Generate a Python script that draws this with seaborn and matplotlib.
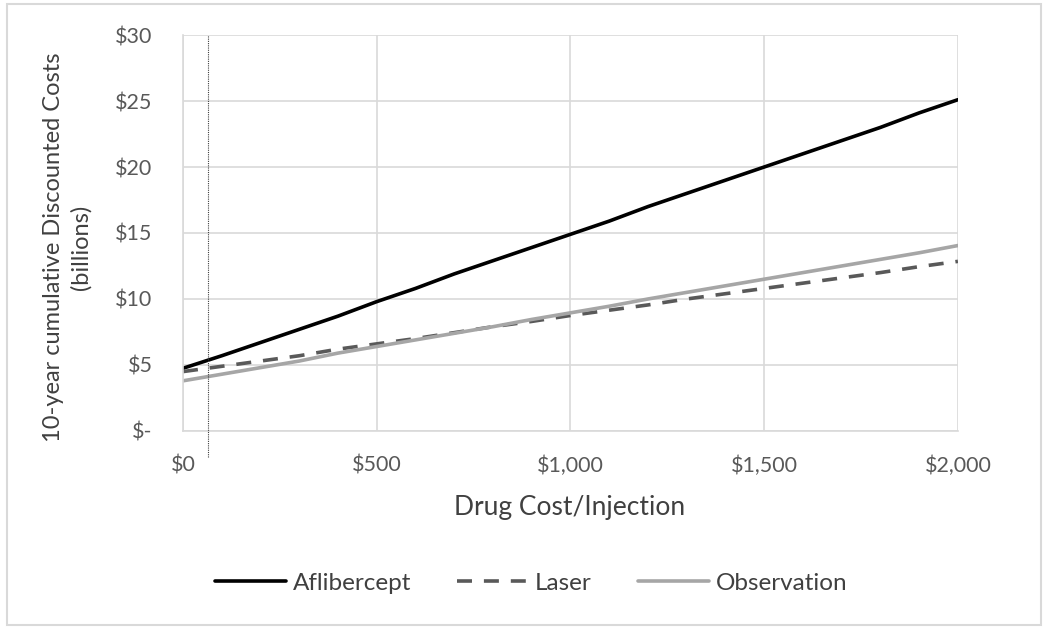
import numpy as np
import pandas as pd
import seaborn as sns
import matplotlib.pyplot as plt
from matplotlib.patches import Rectangle
from matplotlib.ticker import FuncFormatter

# drug cost per injection ($)
drug_cost = [0, 100, 200, 300, 400, 500, 600, 700, 800, 900, 1000,
             1100, 1200, 1300, 1400, 1500, 1600, 1700, 1800, 1900, 2000]

# 10-year cumulative discounted costs (billions)
aflibercept = [4.75, 5.7, 6.7, 7.7, 8.7, 9.8, 10.8, 11.9, 12.9, 13.9, 14.9,
               15.9, 17.0, 18.0, 19.0, 20.0, 21.0, 22.0, 23.0, 24.1, 25.1]
laser = [4.5, 4.9, 5.3, 5.7, 6.2, 6.6, 7.0, 7.45, 7.9, 8.3, 8.75,
         9.15, 9.55, 10.0, 10.4, 10.8, 11.2, 11.6, 12.0, 12.45, 12.85]
observation = [3.8, 4.3, 4.8, 5.3, 5.9, 6.4, 6.9, 7.4, 7.9, 8.45, 8.95,
               9.45, 10.0, 10.5, 11.0, 11.5, 12.0, 12.5, 13.0, 13.5, 14.05]

series_names = ["Aflibercept", "Laser", "Observation"]
threshold_cost = 64

x_ticks = [0, 500, 1000, 1500, 2000]
y_ticks = [0, 5, 10, 15, 20, 25, 30]

df = pd.DataFrame({
    "cost": drug_cost * 3,
    "value": aflibercept + laser + observation,
    "series": np.repeat(series_names, len(drug_cost)),
})

sns.set_theme(style="white")
plt.rcParams["font.family"] = ["Lato", "DejaVu Sans"]

fig = plt.figure(figsize=(10.5, 6.31), dpi=100)
ax = fig.add_axes([0.1743, 0.317, 0.738, 0.6275])

palette = {"Aflibercept": "#000000", "Laser": "#595959", "Observation": "#a6a6a6"}
dashes = {"Aflibercept": "", "Laser": (4.15, 3.3), "Observation": ""}
sns.lineplot(data=df, x="cost", y="value", hue="series", style="series",
             palette=palette, dashes=dashes, linewidth=2.6, ax=ax, legend=True)

ax.set_xlim(0, 2000)
ax.set_ylim(0, 30)
ax.set_xticks(x_ticks)
ax.set_yticks(y_ticks)
ax.xaxis.set_major_formatter(FuncFormatter(lambda v, p: f"${v:,.0f}"))
ax.yaxis.set_major_formatter(FuncFormatter(lambda v, p: "$-" if v == 0 else f"${v:.0f}"))
ax.grid(True, color="#d9d9d9", linewidth=1.2)
ax.set_axisbelow(True)
for side in ["top", "right"]:
    ax.spines[side].set_visible(False)
for side in ["left", "bottom"]:
    ax.spines[side].set_color("#d9d9d9")
    ax.spines[side].set_linewidth(1.2)
ax.tick_params(axis="both", length=0, labelsize=15.5, colors="#595959")
ax.tick_params(axis="y", pad=22)
ax.tick_params(axis="x", pad=18)

ax.set_xlabel("")
ax.set_ylabel("")
fig.text(570 / 1050, 1 - 507 / 631, "Drug Cost/Injection", fontsize=19,
         color="#404040", ha="center", va="center")
fig.text(67 / 1050, 1 - 247 / 631, "10-year cumulative Discounted Costs\n(billions)",
         fontsize=17, color="#404040", ha="center", va="center", rotation=90,
         multialignment="center", linespacing=1.35)

# threshold marker
ax.axvline(threshold_cost, ymin=-0.066, ymax=1, color="#404040", linewidth=0.8,
           linestyle=(0, (1, 1)), clip_on=False, zorder=5)

handles, labels = ax.get_legend_handles_labels()
ax.get_legend().remove()
fig.legend(handles, labels, loc="center", bbox_to_anchor=(0.506, 0.076), ncol=3,
           frameon=False, fontsize=17.5, handlelength=2.9, handletextpad=0.3,
           columnspacing=1.9, labelcolor="#404040")

fig.patches.append(Rectangle((7 / 1050, 1 - 625 / 631), 1034 / 1050, 621 / 631,
                             transform=fig.transFigure, fill=False,
                             edgecolor="#d9d9d9", linewidth=1.5))

fig.savefig("out.png", dpi=100, facecolor="white")
